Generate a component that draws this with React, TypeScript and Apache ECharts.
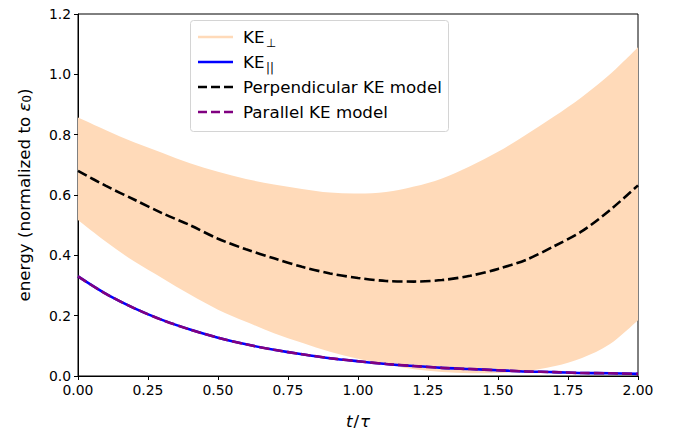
import React, { useEffect, useRef } from "react";
import * as echarts from "echarts";

const T = [0, 0.1, 0.2, 0.3, 0.4, 0.5, 0.6, 0.7, 0.8, 0.9, 1.0, 1.1, 1.2, 1.3, 1.4, 1.5, 1.6, 1.7, 1.8, 1.9, 2.0];
const KE_PERP_LOW = [0.517, 0.445, 0.38, 0.325, 0.27, 0.22, 0.18, 0.142, 0.11, 0.08, 0.057, 0.038, 0.022, 0.013, 0.009, 0.01, 0.016, 0.032, 0.06, 0.106, 0.185];
const KE_PERP_HIGH = [0.857, 0.815, 0.775, 0.74, 0.705, 0.677, 0.653, 0.635, 0.62, 0.608, 0.605, 0.61, 0.628, 0.655, 0.695, 0.743, 0.8, 0.86, 0.925, 1.0, 1.09];
const KE_PAR = [0.33, 0.272, 0.225, 0.186, 0.154, 0.127, 0.105, 0.087, 0.072, 0.059, 0.049, 0.04, 0.033, 0.027, 0.023, 0.019, 0.015, 0.013, 0.01, 0.009, 0.007];
const PAR_MODEL = [0.33, 0.272, 0.225, 0.186, 0.154, 0.127, 0.105, 0.087, 0.072, 0.059, 0.049, 0.04, 0.033, 0.027, 0.023, 0.019, 0.015, 0.013, 0.01, 0.009, 0.007];
const PERP_MODEL = [0.68, 0.63, 0.585, 0.54, 0.5, 0.455, 0.42, 0.39, 0.362, 0.34, 0.325, 0.315, 0.313, 0.318, 0.332, 0.355, 0.385, 0.43, 0.48, 0.55, 0.632];

const FONT = "DejaVu Sans";
const PEACH = "#FFDAB9";
const TICK_FS = 13.9;
const LABEL_FS = 16.7;

type P = number[];
function smoothSegs(pts: P[]): string {
  let d = "";
  for (let i = 0; i < pts.length - 1; i++) {
    const p0 = pts[Math.max(i - 1, 0)];
    const p1 = pts[i];
    const p2 = pts[i + 1];
    const p3 = pts[Math.min(i + 2, pts.length - 1)];
    const c1x = p1[0] + (p2[0] - p0[0]) / 6;
    const c1y = p1[1] + (p2[1] - p0[1]) / 6;
    const c2x = p2[0] - (p3[0] - p1[0]) / 6;
    const c2y = p2[1] - (p3[1] - p1[1]) / 6;
    d += ` C ${c1x} ${c1y} ${c2x} ${c2y} ${p2[0]} ${p2[1]}`;
  }
  return d;
}

export default function App() {
  const ref = useRef<HTMLDivElement>(null);
  useEffect(() => {
    if (!ref.current) return;
    const chart = echarts.init(ref.current, null, { renderer: "svg" });
    const pair = (arr: number[]) => T.map((t, i) => [t, arr[i]]);
    const legendRows = [
      { y: 37, color: PEACH, dash: null as null | number[], label: "KE", sub: "⊥", subDy: 6, subSize: 11.7 },
      { y: 62, color: "#0000ff", dash: null, label: "KE", sub: "||", subDy: 5.5, subSize: 11.7 },
      { y: 87, color: "#000000", dash: [9, 4], label: "Perpendicular KE model", sub: "", subDy: 0, subSize: 10 },
      { y: 112, color: "#800080", dash: [9, 4], label: "Parallel KE model", sub: "", subDy: 0, subSize: 10 },
    ];
    const graphics: any[] = [
      {
        type: "rect",
        shape: { x: 190.5, y: 20.5, width: 258, height: 111, r: 3 },
        style: { fill: "rgba(255,255,255,0.8)", stroke: "#d4d4d4", lineWidth: 1 },
        z: 100,
      },
    ];
    legendRows.forEach((r) => {
      graphics.push({
        type: "line",
        shape: { x1: 198, y1: r.y, x2: 233, y2: r.y },
        style: { stroke: r.color, lineWidth: 2.5, lineDash: r.dash || undefined },
        z: 101,
      });
      graphics.push({
        type: "text",
        x: 243,
        y: r.y,
        style: { text: r.label, font: `${LABEL_FS}px "${FONT}"`, fill: "#000", verticalAlign: "middle" },
        z: 101,
      });
      if (r.sub) {
        graphics.push({
          type: "text",
          x: 266,
          y: r.y + r.subDy,
          style: { text: r.sub, font: `${r.subSize}px "${FONT}"`, fill: "#000", verticalAlign: "middle" },
          z: 101,
        });
      }
    });

    chart.setOption({
      animation: false,
      grid: { left: 78, right: 43, top: 14, bottom: 61, show: true, borderColor: "#000", borderWidth: 1, backgroundColor: "transparent" },
      xAxis: {
        type: "value",
        min: 0,
        max: 2,
        interval: 0.25,
        name: "{i|t}{n|/}{i|τ}",
        nameLocation: "middle",
        nameGap: 36,
        nameTextStyle: {
          rich: {
            i: { fontFamily: FONT, fontSize: LABEL_FS, fontStyle: "italic", color: "#000" },
            n: { fontFamily: FONT, fontSize: LABEL_FS, color: "#000", padding: [0, 1, 0, 1] },
          },
        },
        axisLine: { show: true, onZero: false, lineStyle: { color: "#000", width: 1 } },
        axisTick: { show: true, inside: false, length: 4, lineStyle: { color: "#000", width: 1 } },
        axisLabel: { color: "#000", fontFamily: FONT, fontSize: TICK_FS, margin: 7, formatter: (v: number) => v.toFixed(2) },
        splitLine: { show: false },
      },
      yAxis: {
        type: "value",
        min: 0,
        max: 1.2,
        interval: 0.2,
        name: "{n|energy (normalized to }{i|ε}{s|0}{n|)}",
        nameLocation: "middle",
        nameRotate: 90,
        nameGap: 45,
        nameTextStyle: {
          rich: {
            n: { fontFamily: FONT, fontSize: LABEL_FS, color: "#000" },
            i: { fontFamily: FONT, fontSize: LABEL_FS, fontStyle: "italic", color: "#000" },
            s: { fontFamily: FONT, fontSize: 11.7, color: "#000", padding: [7, 0, 0, 0] },
          },
        },
        axisLine: { show: true, onZero: false, lineStyle: { color: "#000", width: 1 } },
        axisTick: { show: true, inside: false, length: 4, lineStyle: { color: "#000", width: 1 } },
        axisLabel: { color: "#000", fontFamily: FONT, fontSize: TICK_FS, margin: 7, formatter: (v: number) => v.toFixed(1) },
        splitLine: { show: false },
      },
      series: [
        {
          name: "KE⊥",
          type: "custom",
          data: [[0]],
          silent: true,
          z: 1,
          clip: true,
          renderItem: (params: any, api: any) => {
            const up = T.map((t, i) => api.coord([t, KE_PERP_HIGH[i]]));
            const lo = T.map((t, i) => api.coord([t, KE_PERP_LOW[i]])).reverse();
            let d = `M ${up[0][0]} ${up[0][1]}` + smoothSegs(up);
            d += ` L ${lo[0][0]} ${lo[0][1]}` + smoothSegs(lo) + " Z";
            return {
              type: "path",
              shape: { pathData: d },
              style: { fill: PEACH, stroke: "none" },
            };
          },
        },
        {
          name: "KE∥",
          type: "line",
          data: pair(KE_PAR),
          showSymbol: false,
          symbol: "none",
          smooth: 0.3,
          lineStyle: { color: "#0000ff", width: 2.6 },
          z: 2,
        },
        {
          name: "Parallel KE model",
          type: "line",
          data: pair(PAR_MODEL),
          showSymbol: false,
          symbol: "none",
          smooth: 0.3,
          lineStyle: { color: "#800080", width: 2.6, type: [10, 4] },
          z: 3,
        },
        {
          name: "Perpendicular KE model",
          type: "line",
          data: pair(PERP_MODEL),
          showSymbol: false,
          symbol: "none",
          smooth: 0.3,
          lineStyle: { color: "#000000", width: 2.6, type: [10, 4] },
          z: 3,
        },
      ],
      graphic: graphics,
    });
    return () => chart.dispose();
  }, []);
  return <div ref={ref} style={{ position: "fixed", left: 0, top: 0, width: 681, height: 437, background: "#fff" }} />;
}
